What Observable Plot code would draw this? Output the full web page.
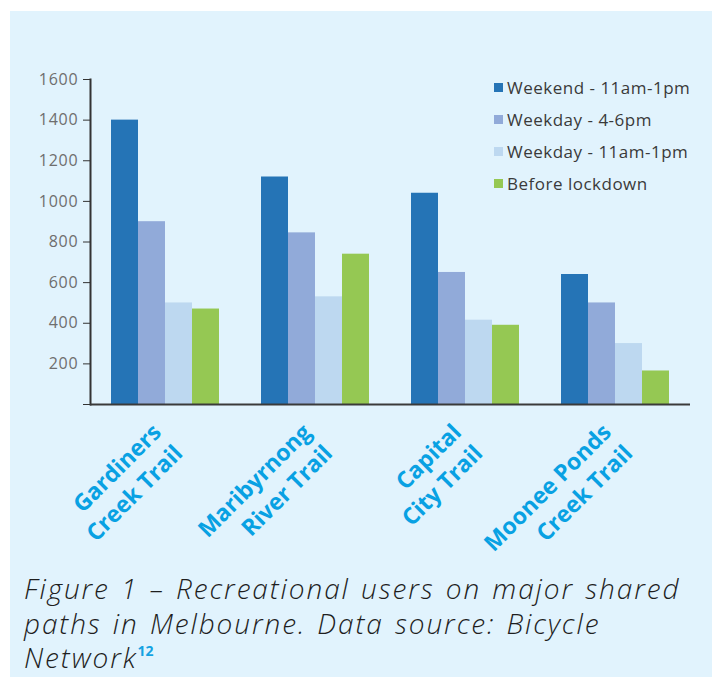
<!DOCTYPE html>
<html>
<head>
<meta charset="utf-8">
<script src="https://cdn.jsdelivr.net/npm/d3@7"></script>
<script src="https://cdn.jsdelivr.net/npm/@observablehq/plot@0.6"></script>
<style>
  html, body { margin: 0; padding: 0; background: #ffffff; }
  #panel { position: absolute; left: 10px; top: 11px; width: 702px; height: 666px; background: #e1f3fd; overflow: hidden; }
  #chart { position: absolute; left: 0; top: 0; }
  #chart svg g[aria-label="y-axis tick label"] text { fill: #6e6e6e; letter-spacing: 0.8px; }
  #legend { position: absolute; left: 484px; top: 60px; font-family: "Open Sans", sans-serif; font-size: 17px; letter-spacing: 0.5px; color: #3a3a3a; }
  #legend .row { height: 32px; display: flex; align-items: center; white-space: nowrap; }
  #legend .sw { width: 9px; height: 9px; margin-right: 4px; }
  #caption { position: absolute; left: 14px; top: 560px; width: 700px; white-space: nowrap; font-family: "Open Sans", sans-serif; font-style: italic; font-weight: 300; font-size: 28px; letter-spacing: 1.9px; word-spacing: 2px; line-height: 34.5px; color: #1e1e1e; }
  #caption sup { font-style: normal; font-weight: 700; color: #13a2e2; font-size: 14px; letter-spacing: 0; vertical-align: 12px; line-height: 0; }
</style>
</head>
<body>
<div id="panel">
  <div id="chart"></div>
  <div id="legend"></div>
  <div id="caption">Figure 1 – Recreational users on major shared<br>paths in Melbourne. Data source: Bicycle<br>Network<sup>12</sup></div>
</div>
<script>
const trails = ["Gardiners Creek Trail", "Maribyrnong River Trail", "Capital City Trail", "Moonee Ponds Creek Trail"];
const trailLabels = ["Gardiners\nCreek Trail", "Maribyrnong\nRiver Trail", "Capital\nCity Trail", "Moonee Ponds\nCreek Trail"];
const series = ["Weekend - 11am-1pm", "Weekday - 4-6pm", "Weekday - 11am-1pm", "Before lockdown"];
const weekend = [1400, 1120, 1040, 640];
const weekday46 = [900, 845, 650, 500];
const weekday11 = [500, 530, 415, 300];
const beforeLockdown = [470, 740, 390, 165];
const colors = ["#2574b6", "#91aad9", "#bdd8f0", "#95c853"];
const yTicks = [0, 200, 400, 600, 800, 1000, 1200, 1400, 1600];

const seriesValues = [weekend, weekday46, weekday11, beforeLockdown];
const rows = [];
trails.forEach((t, i) => series.forEach((s, j) => rows.push({trail: t, series: s, value: seriesValues[j][i]})));
const labelRows = trails.map((t, i) => ({trail: t, label: trailLabels[i]}));

const chart = Plot.plot({
  width: 702,
  height: 555,
  marginLeft: 80,
  marginRight: 22,
  marginTop: 68,
  marginBottom: 162,
  style: {background: "transparent", fontFamily: "Open Sans, sans-serif", fontSize: "16px", color: "#333"},
  fx: {domain: trails, padding: 0, axis: null, label: null},
  x: {domain: series, paddingInner: 0, paddingOuter: 0.707, axis: null},
  y: {domain: [0, 1600], ticks: yTicks, tickFormat: d => d === 0 ? "" : String(d), tickSize: 7, tickPadding: 5, line: true, label: null},
  color: {domain: series, range: colors},
  marks: [
    Plot.barY(rows, {fx: "trail", x: "series", y: "value", fill: "series"}),
    Plot.ruleY([0], {stroke: "#3a3a3a", strokeWidth: 2}),
    Plot.text(labelRows, {fx: "trail", text: "label", frameAnchor: "bottom", rotate: -45, textAnchor: "end", lineAnchor: "middle", lineHeight: 1.3, dx: 1, dy: 33, fill: "#08a1e3", fontWeight: 700, fontSize: 23, fontFamily: "Open Sans, sans-serif"})
  ]
});
document.getElementById("chart").appendChild(chart);

// thicken the long vertical axis line drawn by Plot
chart.querySelectorAll("line, path").forEach(el => {
  let b;
  try { b = el.getBBox(); } catch (e) { return; }
  if (b.height > 250 && b.width < 3) {
    el.setAttribute("stroke-width", 2);
    el.setAttribute("stroke", "#333");
    el.style.strokeWidth = "2px";
  }
});

const legend = document.getElementById("legend");
series.forEach((s, j) => {
  const row = document.createElement("div");
  row.className = "row";
  const sw = document.createElement("span");
  sw.className = "sw";
  sw.style.background = colors[j];
  const label = document.createElement("span");
  label.textContent = s;
  row.appendChild(sw);
  row.appendChild(label);
  legend.appendChild(row);
});
</script>
</body>
</html>
